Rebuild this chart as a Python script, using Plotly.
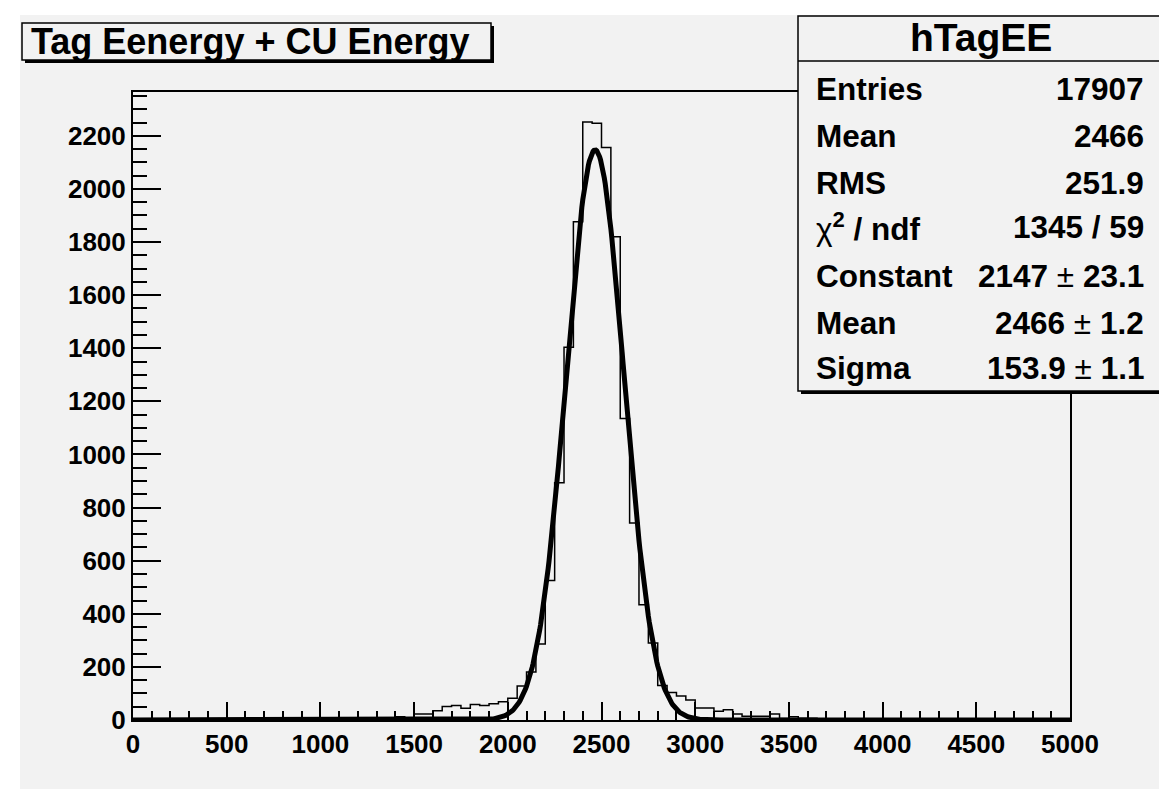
import numpy as np
import plotly.graph_objects as go

# ---------------- data ----------------
BIN_WIDTH = 50
X_MIN, X_MAX = 0, 5000
# 100 bins of width 50 (0..5000)
counts = (
    [0] * 21
    + [1, 0, 2, 1, 3, 4]                                   # bins 21-26
    + [8, 12, 6, 23, 23, 35, 51, 55, 44, 58, 55, 61, 69]   # bins 27-39
    + [82, 128, 181, 286, 525, 893, 1404, 1876]            # bins 40-47
    + [2252, 2247, 2156, 1820, 1135, 742, 434, 290, 130]   # bins 48-56
    + [104, 90, 75, 45, 45, 33, 39, 23, 14, 14, 14, 23]    # bins 57-68
    + [6, 12, 7, 7, 4, 3, 2, 2, 1]                         # bins 69-77
)
counts = counts + [0] * (100 - len(counts))

# Gaussian fit parameters shown in the stats box
FIT_CONSTANT = 2147.0
FIT_MEAN = 2466.0
FIT_SIGMA = 153.9

title_text = "Tag Eenergy + CU Energy"
stats_title = "hTagEE"
stats_labels = ["<b>Entries</b>", "<b>Mean</b>", "<b>RMS</b>", "χ<b><sup>2</sup> / ndf</b>",
                "<b>Constant</b>", "<b>Mean</b>", "<b>Sigma</b>"]
stats_values = ["<b>17907</b>", "<b>2466</b>", "<b>251.9</b>", "<b>1345 / 59</b>",
                "<b>2147</b> ± <b>23.1</b>", "<b>2466</b> ± <b>1.2</b>", "<b>153.9</b> ± <b>1.1</b>"]

x_tickvals = list(range(0, 5001, 500))
y_tickvals = list(range(0, 2201, 200))
Y_MAX = 2365

# ---------------- geometry ----------------
W, H = 1167, 789
L, R, T, B = 125, 1062, 84, 712
BG = "#f2f2f2"
FONT = "Liberation Sans"


def px(xp):
    return (xp - L) / (R - L)


def py(yp):
    return (B - yp) / (B - T)


edges = [X_MIN + i * BIN_WIDTH for i in range(len(counts) + 1)]
hist_x = edges
hist_y = counts + [counts[-1]]

fit_x = np.linspace(X_MIN, X_MAX, 1001)
fit_y = FIT_CONSTANT * np.exp(-0.5 * ((fit_x - FIT_MEAN) / FIT_SIGMA) ** 2)

fig = go.Figure()
fig.add_trace(go.Scatter(x=hist_x, y=hist_y, mode="lines", line=dict(color="black", width=1.5, shape="hv"),
                         hoverinfo="skip"))
fig.add_trace(go.Scatter(x=fit_x, y=fit_y, mode="lines", line=dict(color="black", width=5),
                         hoverinfo="skip"))

tickfont = dict(family=FONT, size=26, color="black", weight="bold")
fig.update_xaxes(range=[X_MIN, X_MAX], tickvals=x_tickvals, ticktext=[str(v) for v in x_tickvals],
                 ticks="inside", ticklen=18, tickwidth=1.5, tickcolor="black",
                 minor=dict(dtick=100, ticks="inside", ticklen=9, tickwidth=1.5, tickcolor="black"),
                 showline=True, linecolor="black", linewidth=2, mirror=True,
                 showgrid=False, zeroline=False, tickfont=tickfont)
fig.update_yaxes(range=[0, Y_MAX], tickvals=y_tickvals, ticktext=[str(v) for v in y_tickvals],
                 ticks="inside", ticklen=28, tickwidth=1.5, tickcolor="black",
                 minor=dict(dtick=50, ticks="inside", ticklen=14, tickwidth=1.5, tickcolor="black"),
                 showline=True, linecolor="black", linewidth=2, mirror=True,
                 showgrid=False, zeroline=False, tickfont=tickfont)

shapes = []
# grey pad background (white strip on left/top)
shapes.append(dict(type="rect", xref="paper", yref="paper", x0=px(12), x1=px(W), y0=py(7), y1=py(H),
                   fillcolor=BG, line=dict(width=0), layer="below"))


def box(x0, y0, x1, y1, sh=3):
    shapes.append(dict(type="rect", xref="paper", yref="paper", x0=px(x0 + sh), x1=px(x1 + sh),
                       y0=py(y0 + sh), y1=py(y1 + sh), fillcolor="black", line=dict(width=0), layer="above"))
    shapes.append(dict(type="rect", xref="paper", yref="paper", x0=px(x0), x1=px(x1),
                       y0=py(y0), y1=py(y1), fillcolor=BG, line=dict(color="black", width=1.5), layer="above"))


box(14, 15, 483, 52)
box(790, 8, 1159, 383)
shapes.append(dict(type="line", xref="paper", yref="paper", x0=px(790), x1=px(1159), y0=py(53), y1=py(53),
                   line=dict(color="black", width=1.5), layer="above"))

annotations = []
annotations.append(dict(x=px(21), y=py(34), xref="paper", yref="paper", text=title_text, showarrow=False,
                        xanchor="left", yanchor="middle",
                        font=dict(family=FONT, size=36, color="black", weight="bold")))
annotations.append(dict(x=px(973), y=py(30), xref="paper", yref="paper", text=stats_title, showarrow=False,
                        xanchor="center", yanchor="middle",
                        font=dict(family=FONT, size=39, color="black", weight="bold")))
row_y = [81, 128, 175, 219, 268, 315, 360]
for lab, val, yy in zip(stats_labels, stats_values, row_y):
    annotations.append(dict(x=px(806), y=py(yy), xref="paper", yref="paper", text=lab, showarrow=False,
                            xanchor="left", yanchor="middle",
                            font=dict(family=FONT, size=31.5, color="black")))
    annotations.append(dict(x=px(1138), y=py(yy), xref="paper", yref="paper", text=val, showarrow=False,
                            xanchor="right", yanchor="middle",
                            font=dict(family=FONT, size=31.5, color="black")))

fig.update_layout(width=W, height=H, margin=dict(l=L, r=W - R, t=T, b=H - B),
                  paper_bgcolor="white", plot_bgcolor=BG, showlegend=False,
                  shapes=shapes, annotations=annotations)

fig.write_html("out.html")
